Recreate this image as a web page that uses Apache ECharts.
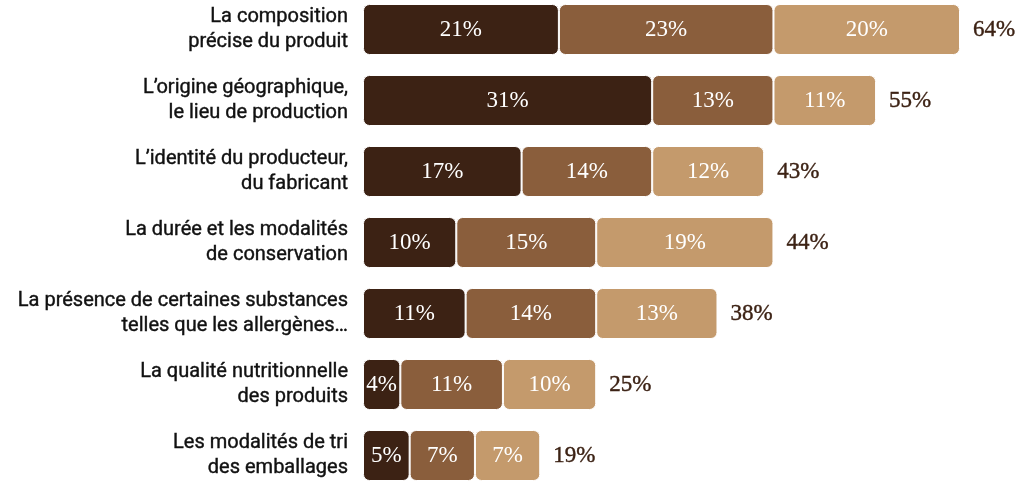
<!DOCTYPE html>
<html>
<head>
<meta charset="UTF-8" />
<title>Critères d'information</title>
<script src="https://cdn.jsdelivr.net/npm/echarts@6/dist/echarts.min.js"></script>
<style>
html, body { margin: 0; padding: 0; background: #fff; overflow: hidden; }
#chart { position: absolute; left: 0; top: -6px; }
</style>
</head>
<body>
<div id="chart" style="width: 1024px; height: 497px;"></div>
<script>
// données
var categories = [
  "La composition\nprécise du produit",
  "L’origine géographique,\nle lieu de production",
  "L’identité du producteur,\ndu fabricant",
  "La durée et les modalités\nde conservation",
  "La présence de certaines substances\ntelles que les allergènes…",
  "La qualité nutritionnelle\ndes produits",
  "Les modalités de tri\ndes emballages"
];
var rang1 = [21, 31, 17, 10, 11, 4, 5];
var rang2 = [23, 13, 14, 15, 14, 11, 7];
var rang3 = [20, 11, 12, 19, 13, 10, 7];
var totaux = [64, 55, 43, 44, 38, 25, 19];

var couleurs = ["#3c2214", "#8a5e3c", "#c49a6c"];
var serif = "'Liberation Serif', 'DejaVu Serif', serif";

var myChart = echarts.init(document.getElementById("chart"));

function segment(nom, data, couleur) {
  return {
    name: nom,
    type: "bar",
    stack: "total",
    barWidth: 51,
    data: data,
    itemStyle: {
      color: couleur,
      borderRadius: 6,
      borderColor: "#fff",
      borderWidth: 1
    },
    label: {
      show: true,
      position: "inside",
      color: "#fff",
      fontFamily: serif,
      fontSize: 23,
      formatter: "{c}%"
    },
    silent: true
  };
}

var option = {
  animation: false,
  grid: { left: 363, top: 0, width: 653, bottom: 0, containLabel: false },
  xAxis: {
    type: "value",
    min: 0,
    max: 70,
    show: false
  },
  yAxis: {
    type: "category",
    inverse: true,
    data: categories,
    axisLine: { show: false },
    axisTick: { show: false },
    axisLabel: {
      margin: 15,
      color: "#111",
      fontFamily: "'Liberation Sans Narrow', 'Roboto', sans-serif",
      fontSize: 20,
      lineHeight: 25,
      align: "right",
      textBorderColor: "#111",
      textBorderWidth: 0.4
    }
  },
  series: [
    segment("1", rang1, couleurs[0]),
    segment("2", rang2, couleurs[1]),
    segment("3", rang3, couleurs[2]),
    {
      name: "total",
      type: "bar",
      stack: "total",
      barWidth: 51,
      data: totaux.map(function () { return 0; }),
      itemStyle: { color: "transparent" },
      label: {
        show: true,
        position: "right",
        distance: 13,
        color: "#3c2214",
        fontFamily: serif,
        fontSize: 23,
        textBorderColor: "#3c2214",
        textBorderWidth: 0.4,
        formatter: function (p) { return totaux[p.dataIndex] + "%"; }
      },
      silent: true
    }
  ]
};

myChart.setOption(option);
</script>
</body>
</html>
